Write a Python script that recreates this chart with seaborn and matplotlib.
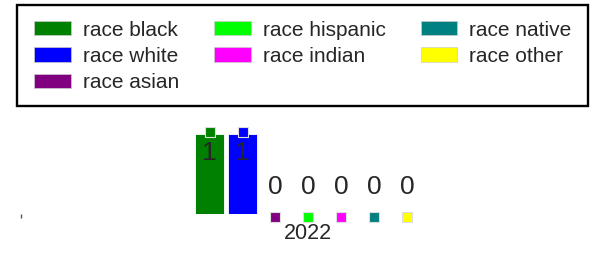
import matplotlib
matplotlib.use("Agg")
import matplotlib.pyplot as plt
import matplotlib.transforms as mtransforms
from matplotlib.patches import Rectangle, Patch
import pandas as pd
import seaborn as sns

# Dados
anos = ["2022"]
racas = ["race black", "race white", "race asian", "race hispanic",
         "race indian", "race native", "race other"]
valores = [1, 1, 0, 0, 0, 0, 0]
cores = ["#008000", "#0000ff", "#800080", "#00ff00",
         "#ff00ff", "#008080", "#ffff00"]

df = pd.DataFrame({"ano": anos * len(racas), "raca": racas, "valor": valores})

sns.set_style("white")
plt.rcParams["font.family"] = ["Liberation Sans", "DejaVu Sans"]

W, H = 592, 254
fig = plt.figure(figsize=(W / 100, H / 100), dpi=100)
ax = fig.add_axes([20.7 / W, 40 / H, 575.2 / W, 80 / H])

sns.barplot(data=df, x="ano", y="valor", hue="raca", hue_order=racas,
            palette=cores, saturation=1, width=0.8, gap=0.12,
            edgecolor="white", linewidth=0.6, legend=False, ax=ax)
ax.set_xlim(-1, 1)
ax.set_ylim(0, 1)

# marcadores e rótulos
cima = mtransforms.offset_copy(ax.transData, fig, y=2, units="dots")
baixo = mtransforms.offset_copy(ax.transData, fig, y=-2.5, units="dots")
for p, cor in zip(ax.patches, cores):
    cx = p.get_x() + p.get_width() / 2
    h = p.get_height()
    ax.scatter([cx], [h], marker="s", s=58, color=cor, edgecolor="#dddddd",
               linewidth=0.8, transform=cima if h > 0 else baixo,
               clip_on=False, zorder=2)
    if h > 0:
        ax.annotate(f"{h:.0f}", (cx, h), xytext=(0, -5), textcoords="offset points",
                    ha="center", va="top", fontsize=19, annotation_clip=False)
    else:
        ax.annotate(f"{h:.0f}", (cx, h), xytext=(0, 11), textcoords="offset points",
                    ha="center", va="bottom", fontsize=19, annotation_clip=False)

for s in ax.spines.values():
    s.set_visible(False)
ax.set_yticks([])
ax.set_xticks([ax.get_xlim()[0], 0], ["", anos[0]])
ax.set_xlabel("")
ax.set_ylabel("")
ax.tick_params(axis="x", bottom=True, direction="out", length=3, width=1,
               color="#555555", pad=3.5, labelsize=15.5)

# Legenda
handles = [Patch(facecolor=c, edgecolor="#cccccc", linewidth=0.5, label=r)
           for r, c in zip(racas, cores)]
fig.legend(handles=handles, loc="upper left", bbox_to_anchor=(34 / W, 1 - 20.5 / H),
           ncol=3, frameon=False, fontsize=15, borderpad=0, borderaxespad=0,
           handlelength=1.76, handleheight=0.67, handletextpad=0.58,
           columnspacing=1.68, labelspacing=0.35)
fig.add_artist(Rectangle((17 / W, 1 - 106 / H), 571 / W, 101 / H,
                         transform=fig.transFigure, fill=False,
                         edgecolor="black", linewidth=1.7))

fig.savefig("out.png", dpi=100)
